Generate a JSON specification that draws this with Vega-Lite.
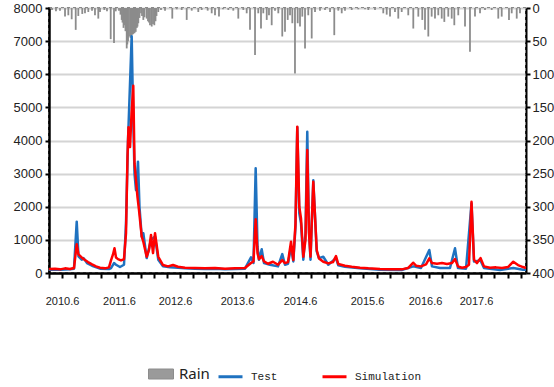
{
  "$schema": "https://vega.github.io/schema/vega-lite/v6.json",
  "width": 477,
  "height": 265,
  "autosize": {"type": "none"},
  "padding": {"left": 49, "top": 8, "right": 28, "bottom": 114},
  "background": "white",
  "config": {
    "view": {"stroke": "#000", "strokeDash": [3, 3], "strokeWidth": 1.5},
    "axis": {"labelFont": "Liberation Sans", "labelColor": "#222", "title": null, "labelOverlap": false}
  },
  "datasets": {
    "rain": [
      {"t": 2010.251, "rain": 3}, {"t": 2010.318, "rain": 5}, {"t": 2010.386, "rain": 4}, {"t": 2010.471, "rain": 13},
      {"t": 2010.527, "rain": 11}, {"t": 2010.584, "rain": 17}, {"t": 2010.652, "rain": 33}, {"t": 2010.696, "rain": 12},
      {"t": 2010.763, "rain": 9}, {"t": 2010.809, "rain": 8}, {"t": 2010.865, "rain": 6}, {"t": 2010.928, "rain": 4},
      {"t": 2010.978, "rain": 11}, {"t": 2011.034, "rain": 16}, {"t": 2011.063, "rain": 6}, {"t": 2011.136, "rain": 3},
      {"t": 2011.181, "rain": 5}, {"t": 2011.244, "rain": 47}, {"t": 2011.300, "rain": 53}, {"t": 2011.329, "rain": 5},
      {"t": 2011.384, "rain": 4}, {"t": 2011.410, "rain": 10}, {"t": 2011.430, "rain": 18}, {"t": 2011.444, "rain": 22},
      {"t": 2011.461, "rain": 30}, {"t": 2011.474, "rain": 26}, {"t": 2011.494, "rain": 35}, {"t": 2011.515, "rain": 61},
      {"t": 2011.525, "rain": 55}, {"t": 2011.537, "rain": 50}, {"t": 2011.554, "rain": 43}, {"t": 2011.579, "rain": 45},
      {"t": 2011.599, "rain": 41}, {"t": 2011.613, "rain": 40}, {"t": 2011.626, "rain": 39}, {"t": 2011.647, "rain": 38},
      {"t": 2011.667, "rain": 36}, {"t": 2011.686, "rain": 30}, {"t": 2011.697, "rain": 28}, {"t": 2011.711, "rain": 23},
      {"t": 2011.731, "rain": 15}, {"t": 2011.757, "rain": 8}, {"t": 2011.774, "rain": 12}, {"t": 2011.796, "rain": 18},
      {"t": 2011.816, "rain": 14}, {"t": 2011.853, "rain": 16}, {"t": 2011.875, "rain": 20}, {"t": 2011.892, "rain": 22},
      {"t": 2011.909, "rain": 26}, {"t": 2011.938, "rain": 28}, {"t": 2011.960, "rain": 24}, {"t": 2011.982, "rain": 26},
      {"t": 2012.002, "rain": 20}, {"t": 2012.019, "rain": 12}, {"t": 2012.049, "rain": 6}, {"t": 2012.095, "rain": 3},
      {"t": 2012.163, "rain": 4}, {"t": 2012.286, "rain": 16}, {"t": 2012.361, "rain": 2}, {"t": 2012.445, "rain": 3},
      {"t": 2012.530, "rain": 18}, {"t": 2012.615, "rain": 4}, {"t": 2012.726, "rain": 6}, {"t": 2012.784, "rain": 3},
      {"t": 2012.885, "rain": 4}, {"t": 2012.953, "rain": 8}, {"t": 2013.009, "rain": 11}, {"t": 2013.076, "rain": 13},
      {"t": 2013.144, "rain": 2}, {"t": 2013.234, "rain": 3}, {"t": 2013.318, "rain": 4}, {"t": 2013.403, "rain": 16},
      {"t": 2013.488, "rain": 3}, {"t": 2013.545, "rain": 8}, {"t": 2013.601, "rain": 33}, {"t": 2013.686, "rain": 71},
      {"t": 2013.741, "rain": 8}, {"t": 2013.787, "rain": 31}, {"t": 2013.826, "rain": 8}, {"t": 2013.884, "rain": 18},
      {"t": 2013.922, "rain": 11}, {"t": 2013.968, "rain": 26}, {"t": 2014.024, "rain": 4}, {"t": 2014.080, "rain": 8},
      {"t": 2014.147, "rain": 43}, {"t": 2014.193, "rain": 36}, {"t": 2014.239, "rain": 18}, {"t": 2014.278, "rain": 11},
      {"t": 2014.317, "rain": 23}, {"t": 2014.362, "rain": 99}, {"t": 2014.408, "rain": 23}, {"t": 2014.447, "rain": 28},
      {"t": 2014.486, "rain": 13}, {"t": 2014.532, "rain": 61}, {"t": 2014.587, "rain": 11}, {"t": 2014.645, "rain": 46},
      {"t": 2014.701, "rain": 6}, {"t": 2014.785, "rain": 4}, {"t": 2014.870, "rain": 3}, {"t": 2014.955, "rain": 6},
      {"t": 2015.027, "rain": 41}, {"t": 2015.095, "rain": 4}, {"t": 2015.153, "rain": 8}, {"t": 2015.208, "rain": 4},
      {"t": 2015.322, "rain": 3}, {"t": 2015.433, "rain": 2}, {"t": 2015.547, "rain": 2}, {"t": 2015.603, "rain": 3},
      {"t": 2015.716, "rain": 3}, {"t": 2015.856, "rain": 8}, {"t": 2015.914, "rain": 10}, {"t": 2015.970, "rain": 13},
      {"t": 2016.054, "rain": 6}, {"t": 2016.110, "rain": 16}, {"t": 2016.168, "rain": 6}, {"t": 2016.279, "rain": 11},
      {"t": 2016.364, "rain": 31}, {"t": 2016.449, "rain": 13}, {"t": 2016.516, "rain": 18}, {"t": 2016.562, "rain": 33},
      {"t": 2016.618, "rain": 43}, {"t": 2016.675, "rain": 13}, {"t": 2016.731, "rain": 16}, {"t": 2016.787, "rain": 11},
      {"t": 2016.845, "rain": 16}, {"t": 2016.889, "rain": 21}, {"t": 2016.956, "rain": 13}, {"t": 2017.014, "rain": 16},
      {"t": 2017.058, "rain": 26}, {"t": 2017.125, "rain": 11}, {"t": 2017.239, "rain": 28}, {"t": 2017.323, "rain": 66},
      {"t": 2017.408, "rain": 13}, {"t": 2017.493, "rain": 8}, {"t": 2017.577, "rain": 3}, {"t": 2017.691, "rain": 3},
      {"t": 2017.802, "rain": 16}, {"t": 2017.860, "rain": 13}, {"t": 2017.983, "rain": 18}, {"t": 2018.029, "rain": 8},
      {"t": 2018.114, "rain": 16}, {"t": 2018.169, "rain": 8}
    ],
    "test": [
      {"t": 2010.200, "v": 100, "series": "Test"}, {"t": 2010.386, "v": 100, "series": "Test"}, {"t": 2010.555, "v": 110, "series": "Test"},
      {"t": 2010.623, "v": 130, "series": "Test"}, {"t": 2010.669, "v": 1550, "series": "Test"}, {"t": 2010.699, "v": 500, "series": "Test"},
      {"t": 2010.753, "v": 400, "series": "Test"}, {"t": 2010.784, "v": 450, "series": "Test"}, {"t": 2010.843, "v": 300, "series": "Test"},
      {"t": 2010.928, "v": 220, "series": "Test"}, {"t": 2011.063, "v": 130, "series": "Test"}, {"t": 2011.215, "v": 120, "series": "Test"},
      {"t": 2011.249, "v": 150, "series": "Test"}, {"t": 2011.300, "v": 300, "series": "Test"}, {"t": 2011.334, "v": 250, "series": "Test"},
      {"t": 2011.401, "v": 180, "series": "Test"}, {"t": 2011.469, "v": 250, "series": "Test"}, {"t": 2011.503, "v": 1500, "series": "Test"},
      {"t": 2011.537, "v": 4000, "series": "Test"}, {"t": 2011.599, "v": 7150, "series": "Test"}, {"t": 2011.621, "v": 5000, "series": "Test"},
      {"t": 2011.647, "v": 3000, "series": "Test"}, {"t": 2011.672, "v": 2500, "series": "Test"}, {"t": 2011.706, "v": 3360, "series": "Test"},
      {"t": 2011.731, "v": 2000, "series": "Test"}, {"t": 2011.769, "v": 1100, "series": "Test"}, {"t": 2011.796, "v": 1200, "series": "Test"},
      {"t": 2011.853, "v": 450, "series": "Test"}, {"t": 2011.926, "v": 1000, "series": "Test"}, {"t": 2011.994, "v": 1100, "series": "Test"},
      {"t": 2012.049, "v": 400, "series": "Test"}, {"t": 2012.129, "v": 200, "series": "Test"}, {"t": 2012.247, "v": 170, "series": "Test"},
      {"t": 2012.383, "v": 160, "series": "Test"}, {"t": 2012.501, "v": 140, "series": "Test"}, {"t": 2012.670, "v": 130, "series": "Test"},
      {"t": 2012.840, "v": 120, "series": "Test"}, {"t": 2013.009, "v": 130, "series": "Test"}, {"t": 2013.178, "v": 110, "series": "Test"},
      {"t": 2013.347, "v": 120, "series": "Test"}, {"t": 2013.516, "v": 130, "series": "Test"}, {"t": 2013.618, "v": 470, "series": "Test"},
      {"t": 2013.660, "v": 300, "series": "Test"}, {"t": 2013.697, "v": 3160, "series": "Test"}, {"t": 2013.728, "v": 800, "series": "Test"},
      {"t": 2013.753, "v": 400, "series": "Test"}, {"t": 2013.799, "v": 715, "series": "Test"}, {"t": 2013.838, "v": 300, "series": "Test"},
      {"t": 2013.939, "v": 250, "series": "Test"}, {"t": 2014.075, "v": 200, "series": "Test"}, {"t": 2014.147, "v": 570, "series": "Test"},
      {"t": 2014.193, "v": 250, "series": "Test"}, {"t": 2014.244, "v": 280, "series": "Test"}, {"t": 2014.295, "v": 800, "series": "Test"},
      {"t": 2014.334, "v": 350, "series": "Test"}, {"t": 2014.371, "v": 1400, "series": "Test"}, {"t": 2014.401, "v": 4400, "series": "Test"},
      {"t": 2014.435, "v": 1800, "series": "Test"}, {"t": 2014.464, "v": 1500, "series": "Test"}, {"t": 2014.503, "v": 400, "series": "Test"},
      {"t": 2014.540, "v": 1200, "series": "Test"}, {"t": 2014.570, "v": 4266, "series": "Test"}, {"t": 2014.599, "v": 1300, "series": "Test"},
      {"t": 2014.625, "v": 400, "series": "Test"}, {"t": 2014.672, "v": 2800, "series": "Test"}, {"t": 2014.730, "v": 650, "series": "Test"},
      {"t": 2014.768, "v": 450, "series": "Test"}, {"t": 2014.841, "v": 490, "series": "Test"}, {"t": 2014.926, "v": 250, "series": "Test"},
      {"t": 2015.056, "v": 450, "series": "Test"}, {"t": 2015.095, "v": 230, "series": "Test"}, {"t": 2015.208, "v": 190, "series": "Test"},
      {"t": 2015.462, "v": 140, "series": "Test"}, {"t": 2015.801, "v": 100, "series": "Test"}, {"t": 2016.168, "v": 90, "series": "Test"},
      {"t": 2016.364, "v": 200, "series": "Test"}, {"t": 2016.494, "v": 150, "series": "Test"}, {"t": 2016.635, "v": 695, "series": "Test"},
      {"t": 2016.680, "v": 200, "series": "Test"}, {"t": 2016.816, "v": 150, "series": "Test"}, {"t": 2016.985, "v": 150, "series": "Test"},
      {"t": 2017.070, "v": 745, "series": "Test"}, {"t": 2017.120, "v": 150, "series": "Test"}, {"t": 2017.256, "v": 130, "series": "Test"},
      {"t": 2017.349, "v": 2100, "series": "Test"}, {"t": 2017.391, "v": 350, "series": "Test"}, {"t": 2017.501, "v": 380, "series": "Test"},
      {"t": 2017.560, "v": 150, "series": "Test"}, {"t": 2017.831, "v": 90, "series": "Test"}, {"t": 2018.056, "v": 150, "series": "Test"},
      {"t": 2018.220, "v": 100, "series": "Test"}, {"t": 2018.271, "v": 100, "series": "Test"}
    ],
    "sim": [
      {"t": 2010.200, "v": 120, "series": "Simulation"}, {"t": 2010.302, "v": 130, "series": "Simulation"}, {"t": 2010.386, "v": 110, "series": "Simulation"},
      {"t": 2010.471, "v": 140, "series": "Simulation"}, {"t": 2010.555, "v": 120, "series": "Simulation"}, {"t": 2010.623, "v": 150, "series": "Simulation"},
      {"t": 2010.669, "v": 870, "series": "Simulation"}, {"t": 2010.699, "v": 560, "series": "Simulation"}, {"t": 2010.753, "v": 470, "series": "Simulation"},
      {"t": 2010.809, "v": 390, "series": "Simulation"}, {"t": 2010.860, "v": 330, "series": "Simulation"}, {"t": 2010.928, "v": 260, "series": "Simulation"},
      {"t": 2010.995, "v": 200, "series": "Simulation"}, {"t": 2011.063, "v": 160, "series": "Simulation"}, {"t": 2011.148, "v": 140, "series": "Simulation"},
      {"t": 2011.215, "v": 170, "series": "Simulation"}, {"t": 2011.249, "v": 380, "series": "Simulation"}, {"t": 2011.283, "v": 560, "series": "Simulation"},
      {"t": 2011.308, "v": 745, "series": "Simulation"}, {"t": 2011.334, "v": 470, "series": "Simulation"}, {"t": 2011.367, "v": 420, "series": "Simulation"},
      {"t": 2011.418, "v": 380, "series": "Simulation"}, {"t": 2011.469, "v": 420, "series": "Simulation"}, {"t": 2011.503, "v": 1200, "series": "Simulation"},
      {"t": 2011.528, "v": 3500, "series": "Simulation"}, {"t": 2011.545, "v": 4400, "series": "Simulation"}, {"t": 2011.571, "v": 3800, "series": "Simulation"},
      {"t": 2011.596, "v": 4800, "series": "Simulation"}, {"t": 2011.626, "v": 5650, "series": "Simulation"}, {"t": 2011.647, "v": 3300, "series": "Simulation"},
      {"t": 2011.672, "v": 2800, "series": "Simulation"}, {"t": 2011.697, "v": 2300, "series": "Simulation"}, {"t": 2011.723, "v": 1900, "series": "Simulation"},
      {"t": 2011.769, "v": 1100, "series": "Simulation"}, {"t": 2011.796, "v": 945, "series": "Simulation"}, {"t": 2011.853, "v": 490, "series": "Simulation"},
      {"t": 2011.892, "v": 700, "series": "Simulation"}, {"t": 2011.926, "v": 1150, "series": "Simulation"}, {"t": 2011.960, "v": 600, "series": "Simulation"},
      {"t": 2011.994, "v": 1200, "series": "Simulation"}, {"t": 2012.049, "v": 490, "series": "Simulation"}, {"t": 2012.129, "v": 240, "series": "Simulation"},
      {"t": 2012.214, "v": 200, "series": "Simulation"}, {"t": 2012.298, "v": 240, "series": "Simulation"}, {"t": 2012.383, "v": 190, "series": "Simulation"},
      {"t": 2012.501, "v": 160, "series": "Simulation"}, {"t": 2012.670, "v": 150, "series": "Simulation"}, {"t": 2012.840, "v": 140, "series": "Simulation"},
      {"t": 2013.009, "v": 150, "series": "Simulation"}, {"t": 2013.178, "v": 130, "series": "Simulation"}, {"t": 2013.347, "v": 140, "series": "Simulation"},
      {"t": 2013.516, "v": 150, "series": "Simulation"}, {"t": 2013.618, "v": 300, "series": "Simulation"}, {"t": 2013.660, "v": 350, "series": "Simulation"},
      {"t": 2013.697, "v": 1620, "series": "Simulation"}, {"t": 2013.728, "v": 600, "series": "Simulation"}, {"t": 2013.753, "v": 420, "series": "Simulation"},
      {"t": 2013.799, "v": 510, "series": "Simulation"}, {"t": 2013.838, "v": 350, "series": "Simulation"}, {"t": 2013.905, "v": 280, "series": "Simulation"},
      {"t": 2013.990, "v": 340, "series": "Simulation"}, {"t": 2014.075, "v": 250, "series": "Simulation"}, {"t": 2014.147, "v": 390, "series": "Simulation"},
      {"t": 2014.193, "v": 300, "series": "Simulation"}, {"t": 2014.244, "v": 330, "series": "Simulation"}, {"t": 2014.295, "v": 945, "series": "Simulation"},
      {"t": 2014.334, "v": 390, "series": "Simulation"}, {"t": 2014.371, "v": 1500, "series": "Simulation"}, {"t": 2014.401, "v": 4417, "series": "Simulation"},
      {"t": 2014.435, "v": 2000, "series": "Simulation"}, {"t": 2014.464, "v": 1650, "series": "Simulation"}, {"t": 2014.503, "v": 490, "series": "Simulation"},
      {"t": 2014.540, "v": 1000, "series": "Simulation"}, {"t": 2014.570, "v": 3713, "series": "Simulation"}, {"t": 2014.599, "v": 1200, "series": "Simulation"},
      {"t": 2014.625, "v": 490, "series": "Simulation"}, {"t": 2014.672, "v": 2756, "series": "Simulation"}, {"t": 2014.730, "v": 695, "series": "Simulation"},
      {"t": 2014.768, "v": 440, "series": "Simulation"}, {"t": 2014.841, "v": 340, "series": "Simulation"}, {"t": 2014.926, "v": 290, "series": "Simulation"},
      {"t": 2015.005, "v": 330, "series": "Simulation"}, {"t": 2015.056, "v": 510, "series": "Simulation"}, {"t": 2015.095, "v": 270, "series": "Simulation"},
      {"t": 2015.208, "v": 220, "series": "Simulation"}, {"t": 2015.322, "v": 190, "series": "Simulation"}, {"t": 2015.462, "v": 160, "series": "Simulation"},
      {"t": 2015.603, "v": 140, "series": "Simulation"}, {"t": 2015.801, "v": 120, "series": "Simulation"}, {"t": 2015.970, "v": 110, "series": "Simulation"},
      {"t": 2016.168, "v": 110, "series": "Simulation"}, {"t": 2016.274, "v": 150, "series": "Simulation"}, {"t": 2016.364, "v": 310, "series": "Simulation"},
      {"t": 2016.410, "v": 220, "series": "Simulation"}, {"t": 2016.494, "v": 200, "series": "Simulation"}, {"t": 2016.579, "v": 260, "series": "Simulation"},
      {"t": 2016.635, "v": 440, "series": "Simulation"}, {"t": 2016.680, "v": 300, "series": "Simulation"}, {"t": 2016.765, "v": 280, "series": "Simulation"},
      {"t": 2016.850, "v": 300, "series": "Simulation"}, {"t": 2016.934, "v": 270, "series": "Simulation"}, {"t": 2017.019, "v": 300, "series": "Simulation"},
      {"t": 2017.070, "v": 420, "series": "Simulation"}, {"t": 2017.120, "v": 200, "series": "Simulation"}, {"t": 2017.188, "v": 160, "series": "Simulation"},
      {"t": 2017.256, "v": 180, "series": "Simulation"}, {"t": 2017.306, "v": 250, "series": "Simulation"}, {"t": 2017.349, "v": 2150, "series": "Simulation"},
      {"t": 2017.391, "v": 400, "series": "Simulation"}, {"t": 2017.442, "v": 300, "series": "Simulation"}, {"t": 2017.501, "v": 450, "series": "Simulation"},
      {"t": 2017.560, "v": 200, "series": "Simulation"}, {"t": 2017.662, "v": 160, "series": "Simulation"}, {"t": 2017.763, "v": 170, "series": "Simulation"},
      {"t": 2017.865, "v": 150, "series": "Simulation"}, {"t": 2017.966, "v": 180, "series": "Simulation"}, {"t": 2018.056, "v": 340, "series": "Simulation"},
      {"t": 2018.136, "v": 240, "series": "Simulation"}, {"t": 2018.220, "v": 180, "series": "Simulation"}, {"t": 2018.271, "v": 150, "series": "Simulation"}
    ]
  },
  "layer": [
    {
      "data": {"name": "rain"},
      "mark": {"type": "rule", "strokeWidth": 1.8},
      "encoding": {
        "x": {
          "field": "t", "type": "quantitative",
          "scale": {"domain": [2010.2, 2018.271], "nice": false, "zero": false},
          "axis": {
            "orient": "bottom", "values": [2010.42, 2011.384, 2012.332, 2013.381, 2014.447, 2015.581, 2016.562, 2017.425],
            "labelExpr": "floor(datum.value) + '.6'", "ticks": false, "domain": false, "grid": false,
            "labelPadding": 22, "labelFontSize": 11, "labelOverlap": false, "labelFlush": false
          }
        },
        "y": {
          "field": "rain", "type": "quantitative",
          "scale": {"domain": [0, 400], "reverse": true, "nice": false},
          "axis": {
            "orient": "right", "values": [0, 50, 100, 150, 200, 250, 300, 350, 400], "grid": false, "format": "d",
            "domainColor": "#000", "domainWidth": 2, "tickColor": "#000", "tickWidth": 2, "tickSize": 4,
            "labelPadding": 2, "labelFontSize": 13, "labelOverlap": false, "labelFlush": false
          }
        },
        "y2": {"datum": 0},
        "color": {
          "datum": "Rain",
          "scale": {"domain": ["Rain"], "range": ["#8c8c8c"]},
          "legend": {
            "orient": "none", "legendX": 99, "legendY": 353, "title": null, "padding": 0,
            "symbolType": "M-1,-0.4H1V0.4H-1Z", "symbolSize": 625, "labelFont": "Noto Sans",
            "labelFontSize": 15, "labelColor": "#222", "labelOffset": 5,
            "symbolFillColor": "#9a9a9a", "symbolStrokeColor": "#6e6e6e", "symbolStrokeWidth": 1
          }
        }
      }
    },
    {
      "encoding": {
        "x": {
          "field": "t", "type": "quantitative",
          "scale": {"domain": [2010.2, 2018.271], "nice": false, "zero": false},
          "axis": {
            "orient": "bottom", "labels": false, "grid": false, "domainColor": "#000", "domainWidth": 2.5,
            "tickColor": "#000", "tickWidth": 2, "tickSize": 5,
            "values": [2010.200, 2010.422, 2010.643, 2010.865, 2011.087, 2011.309, 2011.530, 2011.752, 2011.974, 2012.195, 2012.417, 2012.639, 2012.860, 2013.082, 2013.304, 2013.526, 2013.747, 2013.969, 2014.191, 2014.412, 2014.634, 2014.856, 2015.077, 2015.299, 2015.521, 2015.743, 2015.964, 2016.186, 2016.408, 2016.629, 2016.851, 2017.073, 2017.294, 2017.516, 2017.738, 2017.960, 2018.181]
          }
        },
        "y": {
          "field": "v", "type": "quantitative",
          "scale": {"domain": [0, 8000], "nice": false},
          "axis": {
            "orient": "left", "values": [0, 1000, 2000, 3000, 4000, 5000, 6000, 7000, 8000], "format": "d",
            "grid": true, "gridColor": "#d4d4d4", "gridWidth": 2, "domainColor": "#000", "domainWidth": 2.5,
            "tickColor": "#000", "tickWidth": 2, "tickSize": 4, "labelPadding": 3, "labelFontSize": 13,
            "labelOverlap": false, "labelFlush": false
          }
        },
        "color": {
          "field": "series", "type": "nominal",
          "scale": {"domain": ["Test", "Simulation"], "range": ["#1f72c0", "#ff0000"]},
          "legend": {
            "orient": "none", "legendX": 168, "legendY": 355, "title": null, "padding": 0,
            "direction": "horizontal", "symbolType": "stroke", "symbolSize": 576, "symbolStrokeWidth": 3,
            "labelFont": "Liberation Mono", "labelFontSize": 11, "labelColor": "#222",
            "columnPadding": 38, "labelOffset": 7
          }
        }
      },
      "layer": [
        {
          "data": {"name": "test"},
          "mark": {"type": "line", "strokeWidth": 2.5, "strokeJoin": "round"}
        },
        {
          "data": {"name": "sim"},
          "mark": {"type": "line", "strokeWidth": 2.5, "strokeJoin": "round"}
        }
      ]
    }
  ],
  "resolve": {
    "scale": {"y": "independent", "color": "independent"},
    "axis": {"x": "independent", "y": "independent"},
    "legend": {"color": "independent"}
  }
}
